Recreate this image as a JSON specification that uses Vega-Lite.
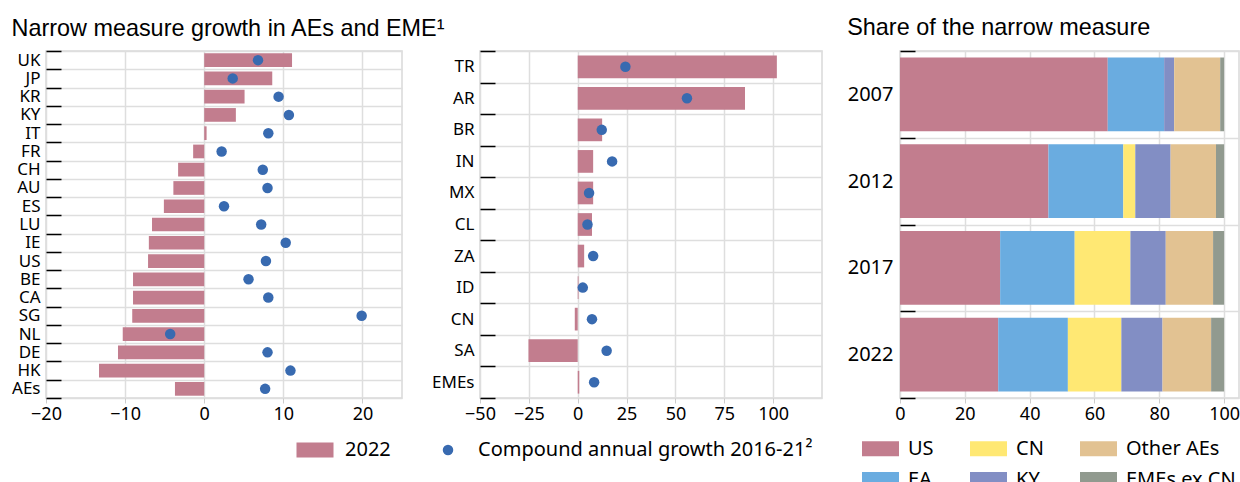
{
  "$schema": "https://vega.github.io/schema/vega-lite/v6.json",
  "padding": {"left": 10, "top": 14, "right": 0, "bottom": 0},
  "background": "white",
  "bounds": "flush",
  "spacing": 78,
  "config": {
    "font": "Noto Sans",
    "view": {"stroke": "#d9d9d9", "strokeWidth": 1.5},
    "axis": {"labelFont": "Noto Sans", "labelColor": "#000", "gridColor": "#dedede", "gridWidth": 1.5, "domain": false, "title": null},
    "axisX": {"labelFlush": false, "labelOverlap": false},
    "title": {"font": "Liberation Sans", "fontSize": 23.4, "fontWeight": "normal", "anchor": "start", "color": "#000", "offset": 1},
    "legend": {"labelFont": "Noto Sans", "labelFontSize": 20, "labelColor": "#000", "title": null, "labelLimit": 500}
  },
  "resolve": {"scale": {"color": "independent", "x": "independent", "y": "independent"}, "legend": {"color": "independent"}},
  "hconcat": [
    {
      "width": 356,
      "height": 347,
      "title": {"text": "Narrow measure growth in AEs and EME¹"},
      "data": {"values": [
        {"c": "UK", "v2022": 11.1, "cagr": 6.8},
        {"c": "JP", "v2022": 8.6, "cagr": 3.6},
        {"c": "KR", "v2022": 5.1, "cagr": 9.4},
        {"c": "KY", "v2022": 4.0, "cagr": 10.7},
        {"c": "IT", "v2022": 0.3, "cagr": 8.1},
        {"c": "FR", "v2022": -1.4, "cagr": 2.2},
        {"c": "CH", "v2022": -3.3, "cagr": 7.4},
        {"c": "AU", "v2022": -3.9, "cagr": 8.0},
        {"c": "ES", "v2022": -5.1, "cagr": 2.5},
        {"c": "LU", "v2022": -6.6, "cagr": 7.2},
        {"c": "IE", "v2022": -7.0, "cagr": 10.3},
        {"c": "US", "v2022": -7.1, "cagr": 7.8},
        {"c": "BE", "v2022": -9.0, "cagr": 5.6},
        {"c": "CA", "v2022": -9.0, "cagr": 8.1},
        {"c": "SG", "v2022": -9.1, "cagr": 19.9},
        {"c": "NL", "v2022": -10.3, "cagr": -4.3},
        {"c": "DE", "v2022": -10.9, "cagr": 8.0},
        {"c": "HK", "v2022": -13.3, "cagr": 10.9},
        {"c": "AEs", "v2022": -3.7, "cagr": 7.7}
      ]},
      "encoding": {
        "y": {"field": "c", "type": "nominal", "sort": null,
          "scale": {"paddingInner": 0, "paddingOuter": 0},
          "axis": {"tickBand": "extent", "grid": true, "ticks": true, "tickColor": "#000", "tickSize": -15, "tickWidth": 1.5, "labelFontSize": 17, "labelPadding": 21}}
      },
      "layer": [
        {"mark": {"type": "bar", "height": {"band": 0.75}, "color": "#c27d8e"},
         "encoding": {
           "x": {"field": "v2022", "type": "quantitative", "scale": {"domain": [-20, 25], "nice": false},
             "axis": {"values": [-20, -10, 0, 10, 20], "grid": true, "labelFontSize": 18, "tickColor": "#cccccc", "tickSize": 5, "labelPadding": 2}},
           "color": {"datum": "2022", "scale": {"domain": ["2022", "Compound annual growth 2016-21²"], "range": ["#c27d8e", "#386ab0"]},
             "legend": {"orient": "none", "legendX": 259, "legendY": 389, "direction": "horizontal", "columnPadding": 47, "labelOffset": 20, "symbolSize": 1369,
               "symbolType": "M-1,-0.4H1V0.4H-1Z",
               "encode": {"symbols": {"update": {
                 "shape": {"signal": "datum.value === '2022' ? 'M-1,-0.4H1V0.4H-1Z' : 'circle'"},
                 "size": {"signal": "datum.value === '2022' ? 1369 : 110"},
                 "fill": {"signal": "datum.value === '2022' ? '#c27d8e' : '#386ab0'"},
                 "stroke": {"value": null}, "opacity": {"value": 1}}}}}}
         }},
        {"mark": {"type": "rule", "color": "#000", "strokeWidth": 1.5}, "encoding": {"x": {"datum": 0}}},
        {"mark": {"type": "point", "filled": true, "size": 110, "opacity": 1},
         "encoding": {"x": {"field": "cagr", "type": "quantitative"}, "color": {"datum": "Compound annual growth 2016-21²"}}}
      ]
    },
    {
      "width": 342,
      "height": 347,
      "data": {"values": [
        {"c": "TR", "v2022": 101.9, "cagr": 24.4},
        {"c": "AR", "v2022": 85.6, "cagr": 55.9},
        {"c": "BR", "v2022": 12.5, "cagr": 12.3},
        {"c": "IN", "v2022": 7.9, "cagr": 17.6},
        {"c": "MX", "v2022": 7.9, "cagr": 5.8},
        {"c": "CL", "v2022": 7.3, "cagr": 5.0},
        {"c": "ZA", "v2022": 3.3, "cagr": 7.9},
        {"c": "ID", "v2022": 0.4, "cagr": 2.6},
        {"c": "CN", "v2022": -1.5, "cagr": 7.3},
        {"c": "SA", "v2022": -25.2, "cagr": 14.8},
        {"c": "EMEs", "v2022": 0.8, "cagr": 8.4}
      ]},
      "encoding": {
        "y": {"field": "c", "type": "nominal", "sort": null,
          "scale": {"paddingInner": 0, "paddingOuter": 0},
          "axis": {"tickBand": "extent", "grid": true, "ticks": true, "tickColor": "#000", "tickSize": -15, "tickWidth": 1.5, "labelFontSize": 17, "labelPadding": 21}}
      },
      "layer": [
        {"mark": {"type": "bar", "height": {"band": 0.72}},
         "encoding": {
           "x": {"field": "v2022", "type": "quantitative", "scale": {"domain": [-50, 125], "nice": false},
             "axis": {"values": [-50, -25, 0, 25, 50, 75, 100], "grid": true, "labelFontSize": 18, "tickColor": "#cccccc", "tickSize": 5, "labelPadding": 2}},
           "color": {"datum": "2022", "scale": {"domain": ["2022", "Compound annual growth 2016-21²"], "range": ["#c27d8e", "#386ab0"]}, "legend": null}
         }},
        {"mark": {"type": "rule", "color": "#000", "strokeWidth": 1.5}, "encoding": {"x": {"datum": 0}}},
        {"mark": {"type": "point", "filled": true, "size": 110, "opacity": 1},
         "encoding": {"x": {"field": "cagr", "type": "quantitative"}, "color": {"datum": "Compound annual growth 2016-21²"}}}
      ]
    },
    {
      "width": 339,
      "height": 347,
      "title": {"text": "Share of the narrow measure"},
      "data": {"values": [
        {"year": "2007", "comp": "US", "k": 1, "share": 64.1},
        {"year": "2007", "comp": "EA", "k": 2, "share": 17.4},
        {"year": "2007", "comp": "CN", "k": 3, "share": 0},
        {"year": "2007", "comp": "KY", "k": 4, "share": 3.1},
        {"year": "2007", "comp": "Other AEs", "k": 5, "share": 14.2},
        {"year": "2007", "comp": "EMEs ex CN", "k": 6, "share": 1.2},
        {"year": "2012", "comp": "US", "k": 1, "share": 45.8},
        {"year": "2012", "comp": "EA", "k": 2, "share": 23.1},
        {"year": "2012", "comp": "CN", "k": 3, "share": 3.7},
        {"year": "2012", "comp": "KY", "k": 4, "share": 10.9},
        {"year": "2012", "comp": "Other AEs", "k": 5, "share": 14.0},
        {"year": "2012", "comp": "EMEs ex CN", "k": 6, "share": 2.5},
        {"year": "2017", "comp": "US", "k": 1, "share": 30.9},
        {"year": "2017", "comp": "EA", "k": 2, "share": 23.0},
        {"year": "2017", "comp": "CN", "k": 3, "share": 17.2},
        {"year": "2017", "comp": "KY", "k": 4, "share": 10.9},
        {"year": "2017", "comp": "Other AEs", "k": 5, "share": 14.6},
        {"year": "2017", "comp": "EMEs ex CN", "k": 6, "share": 3.4},
        {"year": "2022", "comp": "US", "k": 1, "share": 30.3},
        {"year": "2022", "comp": "EA", "k": 2, "share": 21.5},
        {"year": "2022", "comp": "CN", "k": 3, "share": 16.5},
        {"year": "2022", "comp": "KY", "k": 4, "share": 12.7},
        {"year": "2022", "comp": "Other AEs", "k": 5, "share": 15.0},
        {"year": "2022", "comp": "EMEs ex CN", "k": 6, "share": 4.0}
      ]},
      "mark": {"type": "bar", "height": {"band": 0.85}},
      "encoding": {
        "y": {"field": "year", "type": "nominal", "sort": null,
          "scale": {"paddingInner": 0, "paddingOuter": 0},
          "axis": {"tickBand": "extent", "grid": true, "ticks": true, "tickColor": "#000", "tickSize": -15, "tickWidth": 1.5, "labelFontSize": 20, "labelPadding": 22}},
        "x": {"field": "share", "type": "quantitative", "stack": "zero", "scale": {"domain": [0, 104.6], "nice": false},
          "axis": {"values": [0, 20, 40, 60, 80, 100], "grid": true, "labelFontSize": 18, "tickColor": "#cccccc", "tickSize": 5, "labelPadding": 2}},
        "order": {"field": "k", "type": "quantitative", "sort": "ascending"},
        "color": {"field": "comp", "type": "nominal",
          "sort": ["US", "EA", "CN", "KY", "Other AEs", "EMEs ex CN"],
          "scale": {"domain": ["US", "EA", "CN", "KY", "Other AEs", "EMEs ex CN"], "range": ["#c27d8e", "#6aace0", "#ffe873", "#828ec4", "#e2c292", "#919a8f"]},
          "legend": {"orient": "none", "legendX": -38, "legendY": 379, "columns": 3, "values": ["US", "EA", "CN", "KY", "Other AEs", "EMEs ex CN"],
            "columnPadding": 36, "rowPadding": 2, "labelOffset": 9, "symbolType": "M-1,-0.4H1V0.4H-1Z", "symbolSize": 1369, "symbolStrokeWidth": 0, "symbolOpacity": 1}}
      }
    }
  ]
}
